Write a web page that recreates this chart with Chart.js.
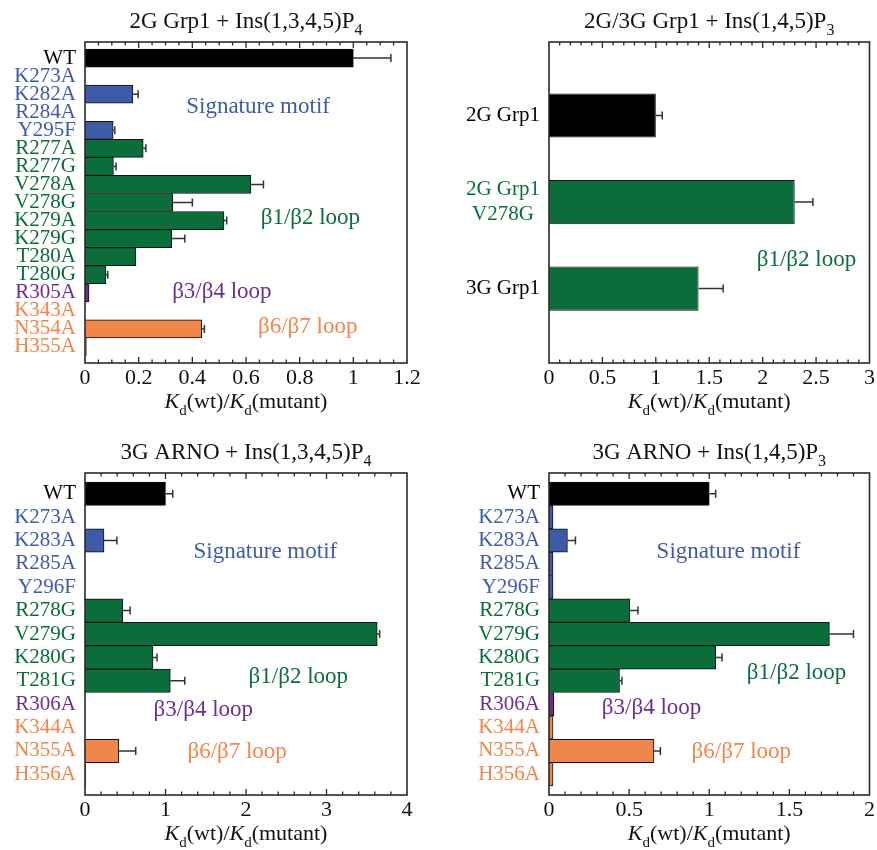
<!DOCTYPE html>
<html>
<head>
<meta charset="utf-8">
<script src="https://cdn.jsdelivr.net/npm/chart.js@4.4.1/dist/chart.umd.min.js"></script>
<style>
  body { margin: 0; background: #fff; }
  #wrap { position: relative; width: 877px; height: 850px; }
  .panel { position: absolute; }
</style>
</head>
<body>
<div id="wrap">
  <div class="panel" style="left:0;top:0;width:438px;height:428px"><canvas id="cA"></canvas></div>
  <div class="panel" style="left:438px;top:0;width:439px;height:428px"><canvas id="cB"></canvas></div>
  <div class="panel" style="left:0;top:428px;width:438px;height:422px"><canvas id="cC"></canvas></div>
  <div class="panel" style="left:438px;top:428px;width:439px;height:422px"><canvas id="cD"></canvas></div>
</div>
<script>
const FONT = "'Liberation Serif', 'Times New Roman', serif";
const COLORS = { wt: "#000000", sig: "#3e5ba8", b12: "#0b6d3a", b34: "#6c2f8c", b67: "#f0864a" };

// 2G Grp1 + Ins(1,3,4,5)P4
const labelsA = ["WT", "K273A", "K282A", "R284A", "Y295F", "R277A", "R277G", "V278A", "V278G",
  "K279A", "K279G", "T280A", "T280G", "R305A", "K343A", "N354A", "H355A"];
const groupsA = ["wt", "sig", "sig", "sig", "sig", "b12", "b12", "b12", "b12",
  "b12", "b12", "b12", "b12", "b34", "b67", "b67", "b67"];
const valuesA = [1.0, 0, 0.178, 0, 0.105, 0.217, 0.106, 0.618, 0.327, 0.518, 0.323, 0.19, 0.078, 0.015, 0, 0.435, 0.005];
const errorsA = [0.14, 0, 0.02, 0, 0.006, 0.01, 0.01, 0.047, 0.073, 0.01, 0.049, 0, 0.007, 0, 0, 0.01, 0];
const xTicksA = [0, 0.2, 0.4, 0.6, 0.8, 1, 1.2];

// 2G/3G Grp1 + Ins(1,4,5)P3
const labelsB = ["2G Grp1", ["2G Grp1", "V278G"], "3G Grp1"];
const labelGroupsB = ["wt", "b12", "wt"];
const groupsB = ["wt", "b12", "b12"];
const valuesB = [1.0, 2.3, 1.4];
const errorsB = [0.06, 0.17, 0.23];
const xTicksB = [0, 0.5, 1, 1.5, 2, 2.5, 3];

// 3G ARNO + Ins(1,3,4,5)P4
const labelsC = ["WT", "K273A", "K283A", "R285A", "Y296F", "R278G", "V279G", "K280G", "T281G",
  "R306A", "K344A", "N355A", "H356A"];
const groupsC = ["wt", "sig", "sig", "sig", "sig", "b12", "b12", "b12", "b12", "b34", "b67", "b67", "b67"];
const valuesC = [1.0, 0, 0.236, 0, 0, 0.47, 3.63, 0.845, 1.06, 0, 0, 0.42, 0.01];
const errorsC = [0.09, 0, 0.16, 0, 0, 0.09, 0.03, 0.05, 0.18, 0, 0, 0.21, 0];
const xTicksC = [0, 1, 2, 3, 4];

// 3G ARNO + Ins(1,4,5)P3
const labelsD = labelsC;
const groupsD = groupsC;
const valuesD = [1.0, 0.025, 0.115, 0.025, 0.025, 0.505, 1.75, 1.04, 0.44, 0.03, 0.025, 0.655, 0.025];
const errorsD = [0.04, 0, 0.05, 0, 0, 0.05, 0.15, 0.04, 0.015, 0, 0, 0.04, 0];
const xTicksD = [0, 0.5, 1, 1.5, 2];

const axisTitle = [
  { t: "K", italic: true }, { t: "d", sub: true }, { t: "(wt)/" },
  { t: "K", italic: true }, { t: "d", sub: true }, { t: "(mutant)" }
];

const panels = [
  {
    id: "cA", labels: labelsA, labelGroups: groupsA, groups: groupsA, values: valuesA, errors: errorsA,
    xTicks: xTicksA, minor: 0.05, yMin: -0.89, yMax: 16.89, barPct: 1, crossAlign: "near",
    pad: { top: 42, right: 31 }, axisW: 85, axisH: 65,
    title: [{ t: "2G Grp1 + Ins(1,3,4,5)P" }, { t: "4", sub: true }],
    notes: [
      { t: "Signature motif", g: "sig", x: 0.645, y: 2.71 },
      { t: "β1/β2 loop", g: "b12", x: 0.84, y: 8.86 },
      { t: "β3/β4 loop", g: "b34", x: 0.51, y: 12.95 },
      { t: "β6/β7 loop", g: "b67", x: 0.83, y: 14.9 }
    ]
  },
  {
    id: "cB", labels: labelsB, labelGroups: labelGroupsB, groups: groupsB, values: valuesB, errors: errorsB,
    xTicks: xTicksB, minor: 0.1, yMin: -0.85, yMax: 2.86, barPct: 0.51, crossAlign: "center",
    pad: { top: 42, right: 7 }, axisW: 111, axisH: 65,
    title: [{ t: "2G/3G Grp1 + Ins(1,4,5)P" }, { t: "3", sub: true }],
    notes: [
      { t: "β1/β2 loop", g: "b12", x: 2.41, y: 1.665 }
    ]
  },
  {
    id: "cC", labels: labelsC, labelGroups: groupsC, groups: groupsC, values: valuesC, errors: errorsC,
    xTicks: xTicksC, minor: 0.2, yMin: -0.885, yMax: 12.885, barPct: 1, crossAlign: "near",
    pad: { top: 45, right: 31 }, axisW: 85, axisH: 55,
    title: [{ t: "3G ARNO + Ins(1,3,4,5)P" }, { t: "4", sub: true }],
    notes: [
      { t: "Signature motif", g: "sig", x: 2.24, y: 2.49 },
      { t: "β1/β2 loop", g: "b12", x: 2.65, y: 7.84 },
      { t: "β3/β4 loop", g: "b34", x: 1.47, y: 9.25 },
      { t: "β6/β7 loop", g: "b67", x: 1.89, y: 11.05 }
    ]
  },
  {
    id: "cD", labels: labelsD, labelGroups: groupsD, groups: groupsD, values: valuesD, errors: errorsD,
    xTicks: xTicksD, minor: 0.1, yMin: -0.885, yMax: 12.885, barPct: 1, crossAlign: "near",
    pad: { top: 45, right: 6 }, axisW: 111, axisH: 55,
    title: [{ t: "3G ARNO + Ins(1,4,5)P" }, { t: "3", sub: true }],
    notes: [
      { t: "Signature motif", g: "sig", x: 1.12, y: 2.49 },
      { t: "β1/β2 loop", g: "b12", x: 1.545, y: 7.67 },
      { t: "β3/β4 loop", g: "b34", x: 0.64, y: 9.17 },
      { t: "β6/β7 loop", g: "b67", x: 1.2, y: 11.05 }
    ]
  }
];

// text with italic K and subscripts, centred on cx
function drawRich(ctx, parts, cx, baseline, size) {
  const subSize = Math.round(size * 0.68);
  const fontOf = p => (p.italic ? "italic " : "") + (p.sub ? subSize : size) + "px " + FONT;
  let total = 0;
  const widths = parts.map(p => {
    ctx.font = fontOf(p);
    const w = ctx.measureText(p.t).width;
    total += w;
    return w;
  });
  let xx = cx - total / 2;
  ctx.textAlign = "left";
  ctx.textBaseline = "alphabetic";
  parts.forEach((p, i) => {
    ctx.font = fontOf(p);
    ctx.fillText(p.t, xx, baseline + (p.sub ? 7 : 0));
    xx += widths[i];
  });
}

function makeDecor(p) {
  return {
    id: "decor_" + p.id,
    afterDatasetsDraw(chart) {
      const { ctx, chartArea: a } = chart;
      const x = chart.scales.x, y = chart.scales.y;
      const meta = chart.getDatasetMeta(0);
      ctx.save();

      // one-sided error bars
      ctx.strokeStyle = "#333";
      ctx.lineWidth = 1.5;
      meta.data.forEach((bar, i) => {
        const e = p.errors[i];
        if (!e) return;
        const x0 = x.getPixelForValue(p.values[i]);
        const x1 = x.getPixelForValue(p.values[i] + e);
        ctx.beginPath();
        ctx.moveTo(x0, bar.y);
        ctx.lineTo(x1, bar.y);
        ctx.moveTo(x1, bar.y - 4);
        ctx.lineTo(x1, bar.y + 4);
        ctx.stroke();
      });

      // frame
      ctx.strokeStyle = "#2a2a2a";
      ctx.lineWidth = 1.6;
      ctx.strokeRect(a.left, a.top, a.right - a.left, a.bottom - a.top);

      // inward ticks, top and bottom
      ctx.lineWidth = 1.3;
      const n = Math.round(x.max / p.minor);
      for (let k = 1; k < n; k++) {
        const v = k * p.minor;
        const px = x.getPixelForValue(v);
        const major = p.xTicks.some(t => Math.abs(t - v) < 1e-6);
        const len = major ? 6 : 3.5;
        ctx.beginPath();
        ctx.moveTo(px, a.top);
        ctx.lineTo(px, a.top + len);
        ctx.moveTo(px, a.bottom);
        ctx.lineTo(px, a.bottom - len);
        ctx.stroke();
      }

      // annotations
      ctx.font = "23px " + FONT;
      ctx.textAlign = "center";
      ctx.textBaseline = "middle";
      p.notes.forEach(nt => {
        ctx.fillStyle = COLORS[nt.g];
        ctx.fillText(nt.t, x.getPixelForValue(nt.x), y.getPixelForValue(nt.y));
      });

      // title and axis title
      ctx.fillStyle = "#111";
      const cx = (a.left + a.right) / 2;
      drawRich(ctx, p.title, cx, a.top - 14, 23);
      drawRich(ctx, axisTitle, cx, a.bottom + 45, 22);
      ctx.restore();
    }
  };
}

panels.forEach(p => {
  new Chart(document.getElementById(p.id), {
    type: "bar",
    data: {
      datasets: [{
        data: p.values.map((v, i) => ({ x: v, y: i })),
        backgroundColor: p.groups.map(g => COLORS[g]),
        borderColor: "#111",
        borderWidth: 1,
        barPercentage: p.barPct,
        categoryPercentage: 1
      }]
    },
    options: {
      indexAxis: "y",
      responsive: true,
      maintainAspectRatio: false,
      animation: false,
      layout: { padding: { top: p.pad.top, right: p.pad.right, left: 0, bottom: 0 } },
      plugins: { legend: { display: false }, tooltip: { enabled: false }, title: { display: false } },
      scales: {
        x: {
          type: "linear",
          min: 0,
          max: p.xTicks[p.xTicks.length - 1],
          grid: { display: false, drawTicks: false },
          border: { display: false },
          afterBuildTicks: s => { s.ticks = p.xTicks.map(v => ({ value: v })); },
          afterFit: s => { s.height = p.axisH; },
          ticks: {
            autoSkip: false,
            maxRotation: 0,
            padding: 2,
            color: "#111",
            font: { family: FONT, size: 22 },
            callback: v => String(v)
          }
        },
        y: {
          type: "linear",
          reverse: true,
          offset: false,
          min: p.yMin,
          max: p.yMax,
          grid: { display: false, drawTicks: false },
          border: { display: false },
          afterBuildTicks: s => { s.ticks = p.labels.map((_, i) => ({ value: i })); },
          afterFit: s => { s.width = p.axisW; },
          ticks: {
            autoSkip: false,
            padding: 9,
            crossAlign: p.crossAlign,
            font: { family: FONT, size: 21 },
            color: c => COLORS[p.labelGroups[c.index]] || "#000",
            callback: v => p.labels[v]
          }
        }
      }
    },
    plugins: [makeDecor(p)]
  });
});
</script>
</body>
</html>
